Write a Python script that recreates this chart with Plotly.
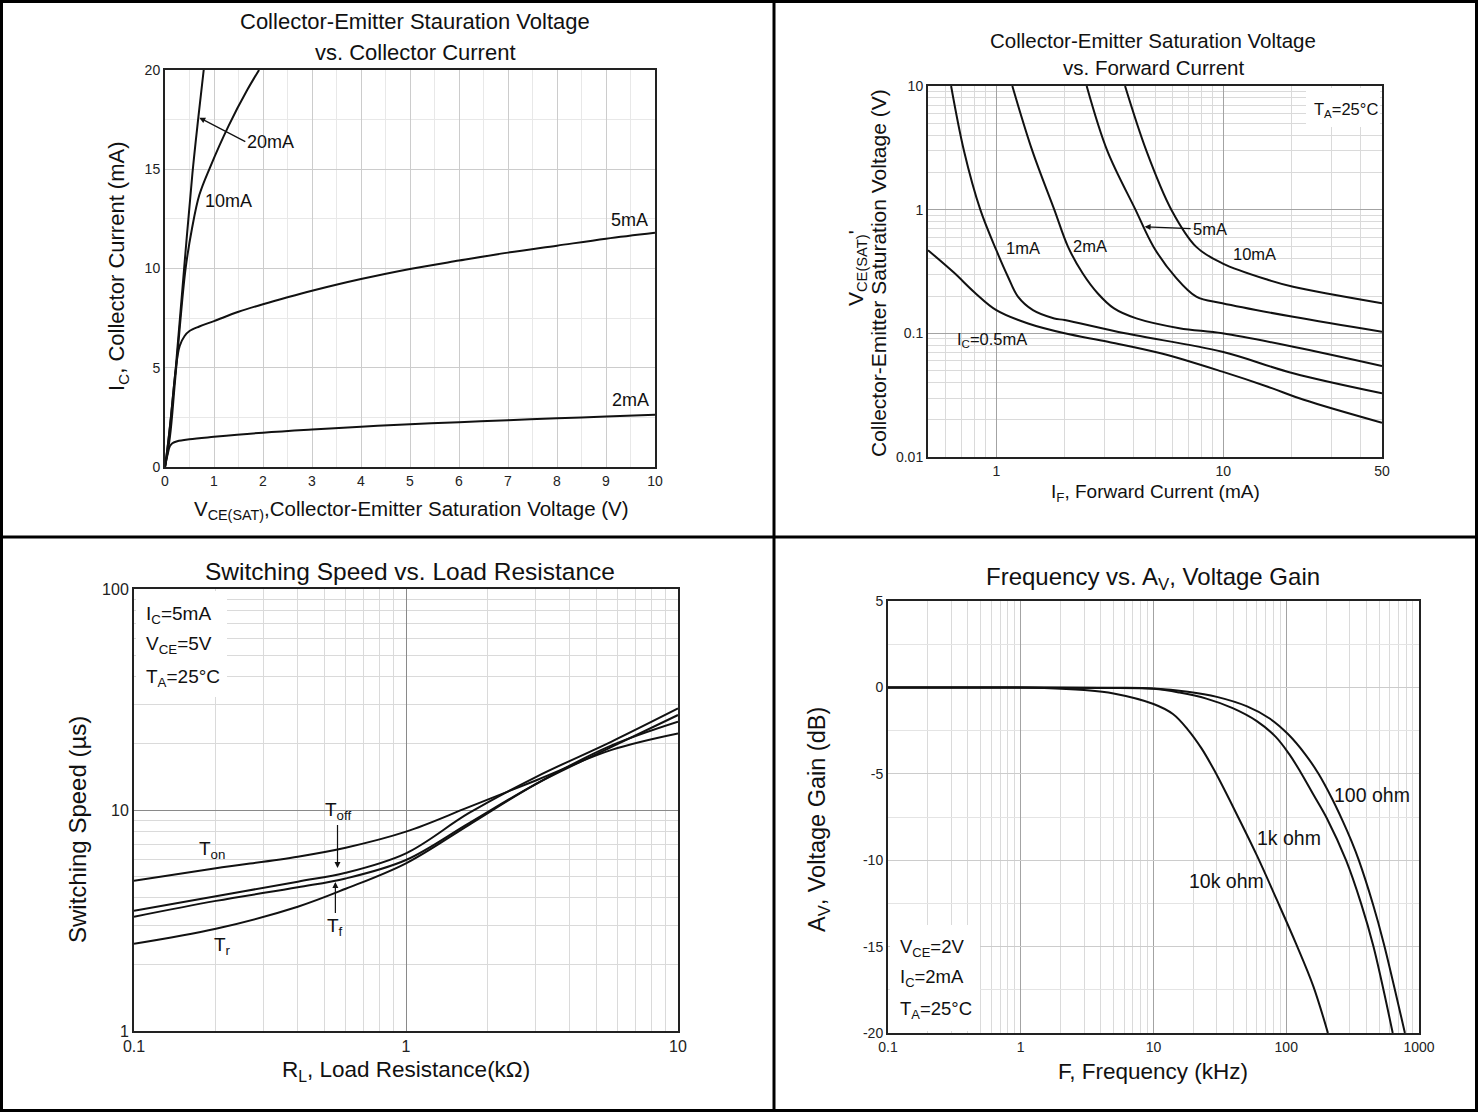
import math
import plotly.graph_objects as go

# ---------------- data ----------------
# Chart 1: IC vs VCE(sat) for several base currents
v_20ma = [0, 0.05, 0.12, 0.22, 0.39, 0.56, 0.68, 0.79]
i_20ma = [0, 0.9, 2.5, 5.0, 10.0, 14.8, 17.6, 20.0]
v_10ma = [0, 0.1, 0.2, 0.3, 0.42, 0.55, 0.7, 0.92, 1.3, 1.68, 1.92]
i_10ma = [0, 1.5, 4.2, 7.0, 10.0, 12.0, 13.7, 15.1, 17.2, 19.0, 20.0]
v_5ma = [0, 0.1, 0.2, 0.25, 0.3, 0.4, 0.5, 0.7, 1, 1.5, 2, 2.5, 3, 4, 5, 6, 7, 8, 9, 10]
i_5ma = [0, 2.0, 4.5, 5.5, 6.1, 6.6, 6.85, 7.08, 7.35, 7.82, 8.2, 8.55, 8.88, 9.47, 9.98, 10.4, 10.8, 11.15, 11.5, 11.8]
v_2ma = [0, 0.05, 0.1, 0.15, 0.25, 0.5, 1, 2, 3, 4, 5, 6, 7, 8, 9, 10]
i_2ma = [0, 0.6, 1.05, 1.2, 1.3, 1.4, 1.52, 1.73, 1.89, 2.03, 2.15, 2.26, 2.36, 2.45, 2.54, 2.63]

# Chart 2: VCE(sat) vs IF for several IC
if_05 = [0.5, 0.65, 0.8, 1.0, 1.38, 2.0, 3.1, 5.3, 9.9, 15.7, 22.6, 50]
vce_05 = [0.47, 0.31, 0.215, 0.154, 0.12, 0.1, 0.0855, 0.069, 0.049, 0.037, 0.029, 0.0189]
if_1 = [0.632, 0.72, 0.85, 1.0, 1.125, 1.245, 1.45, 1.8, 2.0, 3.69, 9.9, 20.3, 50]
vce_1 = [10, 3, 1, 0.47, 0.287, 0.198, 0.154, 0.132, 0.128, 0.1, 0.0709, 0.0475, 0.0327]
if_2 = [1.176, 1.44, 1.80, 2.07, 2.40, 2.80, 3.30, 4.14, 6.4, 9.9, 20.3, 50]
vce_2 = [10, 3, 1, 0.5, 0.306, 0.21, 0.159, 0.132, 0.11, 0.1, 0.078, 0.0545]
if_5 = [2.5, 3.08, 4.1, 4.93, 6.13, 7.6, 9.9, 20.3, 50]
vce_5 = [10, 3, 1, 0.5, 0.287, 0.198, 0.175, 0.136, 0.103]
if_10 = [3.69, 4.58, 5.9, 7.6, 9.9, 15.8, 20.3, 50]
vce_10 = [10, 3, 1, 0.5, 0.368, 0.27, 0.238, 0.175]

# Chart 3: switching speed vs load resistance
rl = [0.1, 0.2, 0.4, 0.6, 1, 1.7, 3, 5.7, 10]
t_on = [4.79, 5.45, 6.15, 6.75, 7.98, 10.3, 13.6, 18.7, 22.2]
t_off = [3.5, 4.07, 4.74, 5.2, 6.37, 9.67, 14.1, 20.4, 28.8]
t_f = [3.29, 3.88, 4.47, 4.9, 5.94, 8.7, 13.1, 19.3, 26.9]
t_r = [2.48, 2.9, 3.65, 4.4, 5.74, 8.55, 13.1, 19.6, 25.1]

# Chart 4: voltage gain vs frequency
f_100 = [0.1, 1, 5, 10, 18.1, 30, 50.7, 75, 103, 140, 175, 220, 267, 310, 352, 450, 542, 783]
db_100 = [0, 0, -0.02, -0.06, -0.25, -0.55, -1.1, -1.8, -2.7, -3.9, -5, -6.4, -7.75, -8.9, -10, -12.55, -14.8, -20]
f_1k = [0.1, 1, 4, 10, 15.7, 25, 39.5, 60, 83, 105, 127, 160, 203, 282, 366, 454, 634]
db_1k = [0, 0, -0.03, -0.08, -0.3, -0.65, -1.2, -1.95, -2.85, -3.85, -4.85, -6.2, -7.6, -10, -12.5, -15, -20]
f_10k = [0.1, 0.5, 1.5, 3, 5, 10, 14, 18, 23, 28.7, 41.8, 60.3, 85, 118, 160, 206]
db_10k = [0, 0, -0.03, -0.15, -0.35, -0.96, -1.54, -2.41, -3.53, -4.8, -7.25, -9.75, -12.3, -14.8, -17.3, -20]

tick1_x = [0, 1, 2, 3, 4, 5, 6, 7, 8, 9, 10]
tick1_y = [0, 5, 10, 15, 20]
tick2_x = [1, 10, 50]
tick2_y = [0.01, 0.1, 1, 10]
tick3_x = [0.1, 1, 10]
tick3_y = [1, 10, 100]
tick4_x = [0.1, 1, 10, 100, 1000]
tick4_y = [-20, -15, -10, -5, 0, 5]

# ---------------- layout helpers ----------------
W, H = 1478, 1112
FONT = "Arial, 'Liberation Sans', sans-serif"


def fx(p):
    return p / W


def fy(p):
    return 1 - p / H


fig = go.Figure()
LINE = dict(color="#111111", width=2, shape="spline", smoothing=1.0)

for xs, ys in [(v_20ma, i_20ma), (v_10ma, i_10ma), (v_5ma, i_5ma), (v_2ma, i_2ma)]:
    fig.add_trace(go.Scatter(x=xs, y=ys, mode="lines", line=LINE, xaxis="x", yaxis="y", hoverinfo="skip"))
for xs, ys in [(if_05, vce_05), (if_1, vce_1), (if_2, vce_2), (if_5, vce_5), (if_10, vce_10)]:
    fig.add_trace(go.Scatter(x=xs, y=ys, mode="lines", line=LINE, xaxis="x2", yaxis="y2", hoverinfo="skip"))
for ys in [t_on, t_off, t_f, t_r]:
    fig.add_trace(go.Scatter(x=rl, y=ys, mode="lines", line=LINE, xaxis="x3", yaxis="y3", hoverinfo="skip"))
for xs, ys in [(f_100, db_100), (f_1k, db_1k), (f_10k, db_10k)]:
    fig.add_trace(go.Scatter(x=xs, y=ys, mode="lines", line=LINE, xaxis="x4", yaxis="y4", hoverinfo="skip"))

AX = dict(showline=True, linecolor="#222222", linewidth=2, mirror=True, zeroline=False, automargin=False,
          ticks="", showgrid=True, tickfont=dict(family=FONT, size=14, color="#222222"))
MAJ_LOG = "#a3a3a3"
MIN_LOG = "#dadada"


def lbl(vals):
    return [str(v) for v in vals]


fig.update_layout(
    template="none",
    width=W, height=H, autosize=False, showlegend=False,
    margin=dict(l=0, r=0, t=0, b=0, pad=0, autoexpand=False),
    paper_bgcolor="white", plot_bgcolor="white",
    font=dict(family=FONT, color="#111111"),
    xaxis=dict(AX, domain=[fx(165), fx(655)], range=[0, 10], tickvals=tick1_x, ticktext=lbl(tick1_x),
               anchor="y", gridcolor="#cccccc",
               minor=dict(tickmode="linear", tick0=0, dtick=0.5, showgrid=True, gridcolor="#e8e8e8")),
    yaxis=dict(AX, domain=[fy(467), fy(70)], range=[0, 20], tickvals=tick1_y, ticktext=lbl(tick1_y),
               anchor="x", gridcolor="#cccccc",
               minor=dict(tickmode="linear", tick0=0, dtick=2.5, showgrid=True, gridcolor="#e8e8e8")),
    xaxis2=dict(AX, type="log", domain=[fx(928), fx(1382)], range=[math.log10(0.5), math.log10(50)],
                tickvals=tick2_x, ticktext=lbl(tick2_x), anchor="y2", gridcolor=MAJ_LOG,
                minor=dict(tickmode="linear", dtick="D1", showgrid=True, gridcolor=MIN_LOG)),
    yaxis2=dict(AX, type="log", domain=[fy(457), fy(86)], range=[-2, 1],
                tickvals=tick2_y, ticktext=lbl(tick2_y), anchor="x2", gridcolor=MAJ_LOG,
                minor=dict(tickmode="linear", dtick="D1", showgrid=True, gridcolor=MIN_LOG)),
    xaxis3=dict(AX, type="log", domain=[fx(134), fx(678)], range=[-1, 1],
                tickvals=tick3_x, ticktext=lbl(tick3_x), anchor="y3", gridcolor="#8a8a8a",
                tickfont=dict(family=FONT, size=16, color="#222222"),
                minor=dict(tickmode="linear", dtick="D1", showgrid=True, gridcolor=MIN_LOG)),
    yaxis3=dict(AX, type="log", domain=[fy(1031), fy(589)], range=[0, 2],
                tickvals=tick3_y, ticktext=lbl(tick3_y), anchor="x3", gridcolor="#8a8a8a",
                tickfont=dict(family=FONT, size=16, color="#222222"),
                minor=dict(tickmode="linear", dtick="D1", showgrid=True, gridcolor=MIN_LOG)),
    xaxis4=dict(AX, type="log", domain=[fx(888), fx(1419)], range=[-1, 3],
                tickvals=tick4_x, ticktext=lbl(tick4_x), anchor="y4", gridcolor=MAJ_LOG,
                minor=dict(tickmode="linear", dtick="D1", showgrid=True, gridcolor=MIN_LOG)),
    yaxis4=dict(AX, domain=[fy(1033), fy(601)], range=[-20, 5], tickvals=tick4_y, ticktext=lbl(tick4_y),
                anchor="x4", gridcolor="#cccccc",
                minor=dict(tickmode="linear", tick0=0, dtick=2.5, showgrid=True, gridcolor="#e4e4e4")),
)

shapes = [
    # table frame
    dict(type="rect", xref="paper", yref="paper", x0=fx(1.5), x1=fx(1476.5), y0=fy(1110.5), y1=fy(1.5),
         line=dict(color="black", width=3)),
    dict(type="line", xref="paper", yref="paper", x0=fx(774), x1=fx(774), y0=0, y1=1,
         line=dict(color="black", width=3)),
    dict(type="line", xref="paper", yref="paper", x0=0, x1=1, y0=fy(537), y1=fy(537),
         line=dict(color="black", width=3)),
    # white backgrounds behind condition notes
    dict(type="rect", xref="paper", yref="paper", x0=fx(1306), x1=fx(1380), y0=fy(127), y1=fy(88),
         fillcolor="white", line=dict(width=0), layer="above"),
    dict(type="rect", xref="paper", yref="paper", x0=fx(136), x1=fx(227), y0=fy(697), y1=fy(591),
         fillcolor="white", line=dict(width=0), layer="above"),
    dict(type="rect", xref="paper", yref="paper", x0=fx(890), x1=fx(980), y0=fy(1031), y1=fy(925),
         fillcolor="white", line=dict(width=0), layer="above"),
]
fig.update_layout(shapes=shapes)

ann = []


def txt(x, y, s, size, angle=0, xanchor="center", yanchor="middle"):
    ann.append(dict(xref="paper", yref="paper", x=fx(x), y=fy(y), text=s, showarrow=False,
                    textangle=angle, xanchor=xanchor, yanchor=yanchor,
                    font=dict(family=FONT, size=size, color="#111111")))


# Chart 1 texts
txt(415, 22, "Collector-Emitter Stauration Voltage", 22)
txt(415, 52, "vs. Collector Current", 22)
txt(118, 266, "I<sub>C</sub>, Collector Current (mA)", 22, angle=-90)
txt(411, 510, "V<sub>CE(SAT)</sub>,Collector-Emitter Saturation Voltage (V)", 20.5)
txt(228, 201, "10mA", 18)
txt(629, 220, "5mA", 18)
txt(630, 400, "2mA", 18)

# Chart 2 texts
txt(1153, 40, "Collector-Emitter Saturation Voltage", 20.5)
txt(1153, 68, "vs. Forward Current", 20.5)
txt(857, 268, "V<sub>CE(SAT)</sub>'", 21, angle=-90)
txt(878, 273, "Collector-Emitter Saturation Voltage (V)", 21, angle=-90)
txt(1155, 493, "I<sub>F</sub>, Forward Current (mA)", 19)
txt(1023, 248, "1mA", 16.5)
txt(1090, 246, "2mA", 16.5)
txt(1254, 254, "10mA", 16.5)
txt(955, 340, "I<sub>C</sub>=0.5mA", 16.5, xanchor="left")
txt(1312, 110, "T<sub>A</sub>=25°C", 16.5, xanchor="left")

# Chart 3 texts
txt(410, 571, "Switching Speed vs. Load Resistance", 24.5)
txt(77, 830, "Switching Speed (µs)", 24, angle=-90)
txt(406, 1071, "R<sub>L</sub>, Load Resistance(kΩ)", 22.5)
txt(144, 615, "I<sub>C</sub>=5mA", 19, xanchor="left")
txt(144, 645, "V<sub>CE</sub>=5V", 19, xanchor="left")
txt(144, 678, "T<sub>A</sub>=25°C", 19, xanchor="left")
txt(212, 850, "T<sub>on</sub>", 19)
txt(222, 946, "T<sub>r</sub>", 19)

# Chart 4 texts
txt(1153, 578, "Frequency vs. A<sub>V</sub>, Voltage Gain", 24)
txt(818, 820, "A<sub>V</sub>, Voltage Gain (dB)", 23.5, angle=-90)
txt(1153, 1071, "F, Frequency (kHz)", 22.5)
txt(898, 948, "V<sub>CE</sub>=2V", 18.5, xanchor="left")
txt(898, 978, "I<sub>C</sub>=2mA", 18.5, xanchor="left")
txt(898, 1010, "T<sub>A</sub>=25°C", 18.5, xanchor="left")
txt(1372, 795, "100 ohm", 19.5)
txt(1289, 838, "1k ohm", 19.5)
txt(1226, 881, "10k ohm", 19.5)

ARW = dict(showarrow=True, arrowhead=2, arrowsize=1, arrowwidth=1.2, arrowcolor="#111111", standoff=0)
# Chart 1 arrow: 20mA
ann.append(dict(ARW, xref="x", yref="y", x=0.70, y=17.6, ax=46, ay=24, text="20mA",
                xanchor="left", yanchor="middle", font=dict(family=FONT, size=18, color="#111111")))
# Chart 2 arrow: 5mA
ann.append(dict(ARW, xref="x2", yref="y2", x=math.log10(4.5), y=math.log10(0.728), ax=46, ay=2,
                text="5mA", xanchor="left", yanchor="middle", font=dict(family=FONT, size=16.5, color="#111111")))
# Chart 3 arrows: Toff and Tf
ann.append(dict(ARW, xref="x3", yref="y3", x=math.log10(0.56), y=math.log10(5.47), ax=0, ay=-43,
                text="T<sub>off</sub>", xanchor="center", yanchor="bottom",
                font=dict(family=FONT, size=19, color="#111111")))
ann.append(dict(ARW, xref="x3", yref="y3", x=math.log10(0.55), y=math.log10(4.72), ax=0, ay=31,
                text="T<sub>f</sub>", xanchor="center", yanchor="top",
                font=dict(family=FONT, size=19, color="#111111")))

fig.update_layout(annotations=ann)
fig.write_html("out.html",
               post_script="document.documentElement.style.margin='0';document.body.style.margin='0';document.body.style.overflow='hidden';")
